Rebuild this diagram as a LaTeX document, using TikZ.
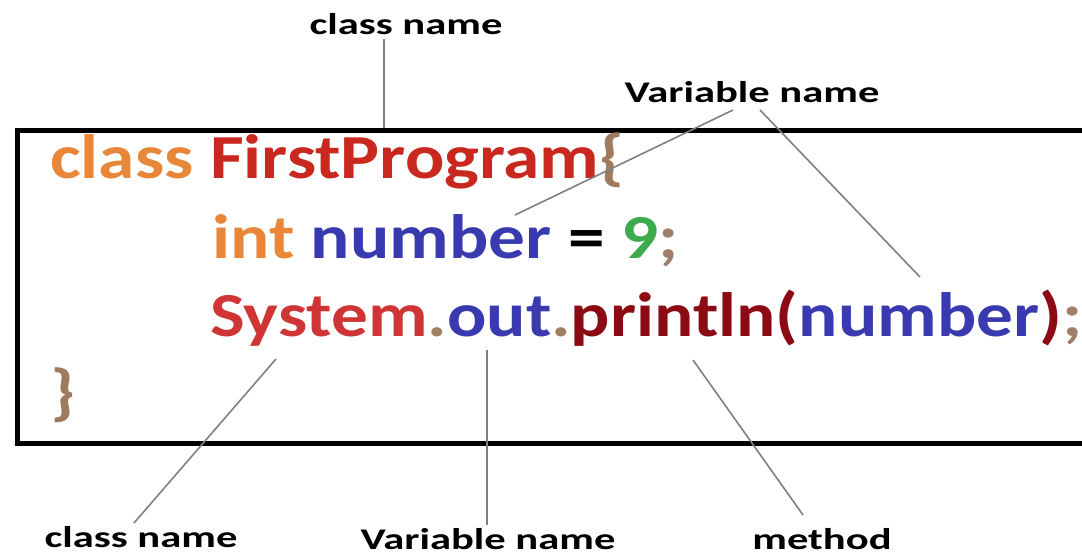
\documentclass[tikz,border=0pt]{standalone}
\usepackage{fontspec}
\newfontfamily\codefont[FakeStretch=1.17]{Carlito}
\newfontfamily\labfont[FakeStretch=1.42]{Carlito}
\definecolor{kwor}{HTML}{E8873A}
\definecolor{clred}{HTML}{C8281E}
\definecolor{brace}{HTML}{A07A5F}
\definecolor{varbl}{HTML}{3A3AB0}
\definecolor{numgr}{HTML}{3DAA4D}
\definecolor{semic}{HTML}{A0806A}
\definecolor{sysred}{HTML}{D03535}
\definecolor{dotc}{HTML}{A08060}
\definecolor{methr}{HTML}{8B0A14}
\tikzset{
  code/.style={anchor=base west, inner sep=0pt, font=\codefont\bfseries\fontsize{47}{47}\selectfont},
  lab/.style={anchor=base, inner sep=0pt, font=\labfont\bfseries\fontsize{22.5}{22.5}\selectfont},
  conn/.style={draw=black!50, line width=1.2pt},
  frame/.style={draw=black, line width=3.75pt}
}
\begin{document}
\begin{tikzpicture}[x=0.75pt,y=-0.75pt]
\useasboundingbox[fill=white] (0,0) rectangle (1082,556);
\clip (0,0) rectangle (1082,556);
% frame
\node[frame, anchor=north west, minimum width=1100*0.75pt, minimum height=313*0.75pt, inner sep=0pt] (box) at (15,128) {};
% code lines
\node[code] (l1) at (50,179) {\textcolor{kwor}{class} \textcolor{clred}{FirstProgram}\textcolor{brace}{\{}};
\node[code] (l2) at (212,258) {\textcolor{kwor}{int} \textcolor{varbl}{number} \textcolor{black}{=} \textcolor{numgr}{9}\textcolor{semic}{;}};
\node[code] (l3) at (210,336) {\textcolor{sysred}{System}\textcolor{dotc}{.}\textcolor{varbl}{out}\textcolor{dotc}{.}\textcolor{methr}{println(}\textcolor{varbl}{number}\textcolor{methr}{)}\textcolor{semic}{;}};
\node[code] (l4) at (50,413) {\textcolor{brace}{\}}};
% labels
\node[lab] (cnTop) at (406,35) {class name};
\node[lab] (vnTop) at (752,103) {Variable name};
\node[lab] (cnBot) at (141,547) {class name};
\node[lab] (vnBot) at (488,549) {Variable name};
\node[lab] (mBot) at (822,549) {method};
% connector ends
\coordinate (a1) at (384,39);
\coordinate (a2) at (384,128);
\coordinate (b1) at (733,110);
\coordinate (b2) at (515,215);
\coordinate (c1) at (760,110);
\coordinate (c2) at (920,277);
\coordinate (d1) at (276,359);
\coordinate (d2) at (134,523);
\coordinate (e1) at (487,350);
\coordinate (e2) at (487,525);
\coordinate (f1) at (693,360);
\coordinate (f2) at (803,515);
\draw[conn] (a1) -- (a2);
\draw[conn] (b1) -- (b2);
\draw[conn] (c1) -- (c2);
\draw[conn] (d1) -- (d2);
\draw[conn] (e1) -- (e2);
\draw[conn] (f1) -- (f2);
\end{tikzpicture}
\end{document}
